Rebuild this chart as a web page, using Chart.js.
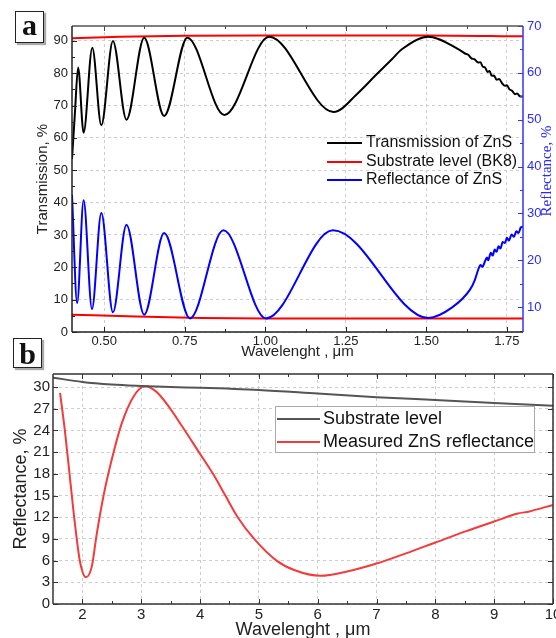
<!DOCTYPE html>
<html>
<head>
<meta charset="utf-8">
<script src="https://cdn.jsdelivr.net/npm/chart.js@4.4.0/dist/chart.umd.min.js"></script>
<style>
  html, body { margin: 0; background: #fff; }
  body { width: 556px; height: 638px; overflow: hidden; position: relative; }
  canvas { position: absolute; left: 0; }
  #chartA { top: 0; }
  #chartB { top: 362px; }
  .tag { position: absolute; border: 1.5px solid #222; background: #fff; box-sizing: border-box;
         font: bold 30px 'Liberation Serif', 'DejaVu Serif', serif; text-align: center;
         box-shadow: 2px 2px 1px #aaa; color: #111; }
</style>
</head>
<body>
<canvas id="chartA" width="556" height="362"></canvas>
<canvas id="chartB" width="556" height="282"></canvas>
<div class="tag" style="left:15px;top:11px;width:29px;height:32px;line-height:26px;">a</div>
<div class="tag" style="left:13px;top:338px;width:29px;height:30px;line-height:29px;">b</div>
<script>
// ---- panel a : transmission / reflectance of ZnS film on BK8 ----
const transWl  = [0.400, 0.409, 0.419, 0.436, 0.463, 0.491, 0.527, 0.569, 0.624, 0.686, 0.758, 0.873,
                  1.012, 1.212, 1.289, 1.341, 1.393, 1.424, 1.506, 1.600, 1.620, 1.630, 1.640, 1.650, 1.661,
                  1.668, 1.675, 1.682, 1.690, 1.696, 1.703, 1.710, 1.718, 1.726, 1.735, 1.744, 1.750, 1.758, 1.766,
                  1.775, 1.782, 1.790, 1.800];
const transVal = [53.5, 67.6, 81.8, 61.6, 87.9, 63.9, 90.0, 65.6, 91.0, 66.8, 91.0, 67.1,
                  91.3, 68.0, 74.0, 79.2, 84.3, 87.4, 91.3, 87.4, 86.1, 85.7, 84.6, 84.3, 83.3,
                  83.4, 82.0, 81.8, 80.4, 80.7, 79.2, 79.3, 78.0, 78.2, 76.9, 76.1, 76.3, 75.0, 74.6,
                  73.5, 73.7, 72.9, 72.8];

const subTopWl  = [0.40, 0.55, 0.75, 1.00, 1.50, 1.80];
const subTopVal = [90.8, 91.3, 91.6, 91.7, 91.7, 91.4];

const reflWl  = [0.400, 0.416, 0.436, 0.462, 0.491, 0.527, 0.569, 0.624, 0.686, 0.766, 0.870, 1.002,
                 1.210, 1.506, 1.579, 1.636, 1.651, 1.661, 1.668, 1.674, 1.682, 1.688,
                 1.692, 1.700, 1.706, 1.712, 1.718, 1.724, 1.730, 1.737, 1.744, 1.750, 1.756, 1.765, 1.772, 1.779,
                 1.786, 1.793, 1.800];
const reflVal = [34.0, 10.9, 32.8, 9.6, 30.1, 8.9, 27.6, 8.4, 25.8, 7.6, 26.4, 7.6,
                 26.4, 7.7, 9.9, 13.8, 15.9, 18.0, 19.0, 18.6, 19.8, 20.6,
                 20.0, 21.6, 21.0, 22.3, 21.8, 23.0, 22.5, 23.9, 23.7, 24.8, 24.2, 25.5, 25.0, 26.2,
                 25.8, 27.0, 27.2];

const subBotWl  = [0.40, 0.60, 0.80, 1.00, 1.50, 1.80];
const subBotVal = [8.4, 8.0, 7.7, 7.6, 7.6, 7.6];

const xTicksA  = [0.50, 0.75, 1.00, 1.25, 1.50, 1.75];
const yTicksA  = [0, 10, 20, 30, 40, 50, 60, 70, 80, 90];
const y1TicksA = [10, 20, 30, 40, 50, 60, 70];
const legendA  = ['Transmission of ZnS', 'Substrate level (BK8)', 'Reflectance of ZnS'];

// ---- panel b : IR reflectance ----
const subBWl  = [1.5, 2.0, 2.5, 3.0, 3.5, 4.0, 5.0, 6.0, 7.0, 8.0, 9.0, 10.0];
const subBVal = [31.3, 30.7, 30.35, 30.15, 30.0, 29.9, 29.6, 29.1, 28.6, 28.2, 27.8, 27.4];

const measWl  = [1.62, 1.70, 1.79, 1.87, 1.96, 2.06, 2.16, 2.24, 2.36, 2.50, 2.67, 2.87, 3.06, 3.25, 3.45,
                 3.70, 3.98, 4.22, 4.43, 4.64, 4.92, 5.30, 5.60, 6.05, 6.50, 7.00, 7.50, 8.00, 8.50,
                 9.00, 9.40, 9.60, 10.0];
const measVal = [29.2, 24.1, 17.3, 11.3, 5.8, 3.7, 5.2, 9.5, 15.0, 20.0, 25.0, 28.7, 30.1, 29.4, 27.5,
                 24.5, 21.0, 18.0, 15.0, 12.0, 9.0, 6.0, 4.7, 3.9, 4.5, 5.6, 7.0, 8.5, 10.0,
                 11.4, 12.5, 12.8, 13.7];

const xTicksB = [2, 3, 4, 5, 6, 7, 8, 9, 10];
const yTicksB = [0, 3, 6, 9, 12, 15, 18, 21, 24, 27, 30];

const SANS = "'Liberation Sans', Arial, sans-serif";
Chart.defaults.font.family = SANS;
Chart.defaults.color = '#222';

function pts(xs, ys) {
  return xs.map((x, i) => ({x: x, y: ys[i]}));
}

function fixTicks(arr) {
  return s => { s.ticks = arr.map(v => ({value: v})); };
}

function midpoints(arr, lo, hi) {
  let step = arr[1] - arr[0];
  let res = [];
  for (let v = arr[0] - step / 2; v <= hi; v += step) {
    if (v > lo) res.push(v);
  }
  return res;
}

// keep the plot box where it is, even if edge labels stick out
function fitX(h) {
  return s => { s.height = h; s.paddingLeft = 0; s.paddingRight = 0; };
}

// frame + inward tick marks
function frame(ctx, a, edges) {
  edges.forEach(e => {
    ctx.strokeStyle = e.color;
    ctx.lineWidth = e.width;
    ctx.beginPath();
    if (e.side == 'top') { ctx.moveTo(a.left, a.top); ctx.lineTo(a.right, a.top); }
    if (e.side == 'bottom') { ctx.moveTo(a.left, a.bottom); ctx.lineTo(a.right, a.bottom); }
    if (e.side == 'left') { ctx.moveTo(a.left, a.top); ctx.lineTo(a.left, a.bottom); }
    if (e.side == 'right') { ctx.moveTo(a.right, a.top); ctx.lineTo(a.right, a.bottom); }
    ctx.stroke();
  });
}

function tickMarks(ctx, a, scale, side, vals, len, color) {
  ctx.strokeStyle = color;
  ctx.lineWidth = 1;
  ctx.beginPath();
  vals.forEach(v => {
    let p = Math.round(scale.getPixelForValue(v)) + 0.5;
    if (side == 'bottom') { ctx.moveTo(p, a.bottom); ctx.lineTo(p, a.bottom - len); }
    if (side == 'top') { ctx.moveTo(p, a.top); ctx.lineTo(p, a.top + len); }
    if (side == 'left') { ctx.moveTo(a.left, p); ctx.lineTo(a.left + len, p); }
    if (side == 'right') { ctx.moveTo(a.right, p); ctx.lineTo(a.right - len, p); }
  });
  ctx.stroke();
}

const decorA = {
  id: 'decorA',
  afterDraw(chart) {
    const ctx = chart.ctx, a = chart.chartArea, s = chart.scales;
    ctx.save();
    let xMin = midpoints(xTicksA, 0.4, 1.8);
    tickMarks(ctx, a, s.x, 'bottom', xTicksA, 5, '#222');
    tickMarks(ctx, a, s.x, 'bottom', xMin, 3, '#222');
    tickMarks(ctx, a, s.x, 'top', xTicksA, 5, '#444');
    tickMarks(ctx, a, s.x, 'top', xMin, 3, '#444');
    tickMarks(ctx, a, s.y, 'left', yTicksA, 5, '#222');
    tickMarks(ctx, a, s.y, 'left', midpoints(yTicksA, 0, 94.6), 3, '#222');
    tickMarks(ctx, a, s.y1, 'right', y1TicksA, 5, '#3333ff');
    tickMarks(ctx, a, s.y1, 'right', midpoints(y1TicksA, 4.7, 70), 3, '#3333ff');
    frame(ctx, a, [
      {side: 'top', color: '#555', width: 1.5},
      {side: 'bottom', color: '#222', width: 1.5},
      {side: 'left', color: '#222', width: 1.5},
      {side: 'right', color: '#3333ff', width: 1.5}
    ]);

    // legend (no box)
    const cols = chart.data.datasets.map(d => d.borderColor);
    ctx.font = '16px ' + SANS;
    ctx.textBaseline = 'middle';
    ctx.textAlign = 'left';
    [143, 162, 180].forEach((y, i) => {
      ctx.strokeStyle = cols[i];
      ctx.lineWidth = 2;
      ctx.beginPath();
      ctx.moveTo(327, y); ctx.lineTo(362, y);
      ctx.stroke();
      ctx.fillStyle = '#111';
      ctx.fillText(legendA[i], 366, y);
    });

    // right axis title, reads bottom to top
    ctx.translate(547, 171);
    ctx.rotate(-Math.PI / 2);
    ctx.font = "15px 'Liberation Serif', serif";
    ctx.fillStyle = '#2a2aff';
    ctx.textAlign = 'center';
    ctx.fillText('Reflectance, %', 0, 0);
    ctx.restore();
  }
};

const decorB = {
  id: 'decorB',
  afterDraw(chart) {
    const ctx = chart.ctx, a = chart.chartArea, s = chart.scales;
    ctx.save();
    let xMin = midpoints(xTicksB, 1.5, 10);
    ['bottom', 'top'].forEach(side => {
      tickMarks(ctx, a, s.x, side, xTicksB, 5, '#333');
      tickMarks(ctx, a, s.x, side, xMin, 3, '#333');
    });
    ['left', 'right'].forEach(side => {
      tickMarks(ctx, a, s.y, side, yTicksB, 5, '#333');
    });
    frame(ctx, a, [
      {side: 'top', color: '#333', width: 1.5},
      {side: 'bottom', color: '#333', width: 1.5},
      {side: 'left', color: '#333', width: 1.5},
      {side: 'right', color: '#333', width: 1.5}
    ]);

    // legend box
    ctx.fillStyle = '#fff';
    ctx.fillRect(275, 44, 259, 46);
    ctx.strokeStyle = '#aaa';
    ctx.lineWidth = 1;
    ctx.strokeRect(275.5, 44.5, 259, 46);
    ctx.font = '18px ' + SANS;
    ctx.textBaseline = 'middle';
    ctx.textAlign = 'left';
    chart.data.datasets.forEach((d, i) => {
      let y = 57 + i * 23;
      ctx.strokeStyle = d.borderColor;
      ctx.lineWidth = 2;
      ctx.beginPath();
      ctx.moveTo(277, y); ctx.lineTo(320, y);
      ctx.stroke();
      ctx.fillStyle = '#111';
      ctx.fillText(d.label, 323, y);
    });
    ctx.restore();
  }
};

const gridStyle = {color: '#cdcdcd', lineWidth: 1, drawTicks: false};

new Chart(document.getElementById('chartA'), {
  type: 'line',
  data: {
    datasets: [
      {label: legendA[0], data: pts(transWl, transVal), borderColor: '#000000', yAxisID: 'y'},
      {label: legendA[1], data: pts(subTopWl, subTopVal), borderColor: '#ff0000', yAxisID: 'y'},
      {label: legendA[2], data: pts(reflWl, reflVal), borderColor: '#0000ff', yAxisID: 'y1'},
      {label: 'substrate R', data: pts(subBotWl, subBotVal), borderColor: '#ff0000', yAxisID: 'y1'}
    ]
  },
  options: {
    responsive: false,
    animation: false,
    devicePixelRatio: 1,
    layout: {padding: {top: 26, left: 0, right: 0, bottom: 0}},
    elements: {
      point: {radius: 0},
      line: {borderWidth: 2, cubicInterpolationMode: 'monotone'}
    },
    plugins: {legend: {display: false}, tooltip: {enabled: false}},
    scales: {
      x: {
        type: 'linear', min: 0.4, max: 1.8,
        afterBuildTicks: fixTicks(xTicksA),
        afterFit: fitX(30),
        ticks: {font: {size: 13}, padding: 2, maxRotation: 0, autoSkip: false, callback: v => v.toFixed(2)},
        grid: gridStyle,
        border: {display: false, dash: [3, 3]},
        title: {display: true, text: 'Wavelenght , μm', font: {size: 15}, color: '#222', padding: {top: 0, bottom: 1}}
      },
      y: {
        position: 'left', min: 0, max: 94.6,
        afterBuildTicks: fixTicks(yTicksA),
        afterFit: s => { s.width = 72; },
        ticks: {font: {size: 13}, padding: 4},
        grid: gridStyle,
        border: {display: false, dash: [3, 3]},
        title: {display: true, text: 'Transmission, %', font: {size: 15}, color: '#222', padding: {top: 34, bottom: 0}}
      },
      y1: {
        position: 'right', min: 4.7, max: 70,
        afterBuildTicks: fixTicks(y1TicksA),
        afterFit: s => { s.width = 33; },
        ticks: {font: {size: 13}, padding: 4, color: '#2b2bff'},
        grid: {drawOnChartArea: false, drawTicks: false},
        border: {display: false}
      }
    }
  },
  plugins: [decorA]
});

new Chart(document.getElementById('chartB'), {
  type: 'line',
  data: {
    datasets: [
      {label: 'Substrate level', data: pts(subBWl, subBVal), borderColor: '#555555'},
      {label: 'Measured ZnS reflectance', data: pts(measWl, measVal), borderColor: '#f23b3b'}
    ]
  },
  options: {
    responsive: false,
    animation: false,
    devicePixelRatio: 1,
    layout: {padding: {top: 10, left: 0, right: 3, bottom: 0}},
    elements: {
      point: {radius: 0},
      line: {borderWidth: 2, cubicInterpolationMode: 'monotone'}
    },
    plugins: {legend: {display: false}, tooltip: {enabled: false}},
    scales: {
      x: {
        type: 'linear', min: 1.5, max: 10,
        afterBuildTicks: fixTicks(xTicksB),
        afterFit: fitX(40),
        ticks: {font: {size: 15}, padding: 2, maxRotation: 0, autoSkip: false},
        grid: gridStyle,
        border: {display: false, dash: [3, 3]},
        title: {display: true, text: 'Wavelenght , μm', font: {size: 18}, color: '#222', padding: {top: 0, bottom: 3}}
      },
      y: {
        min: 0, max: 31.8,
        afterBuildTicks: fixTicks(yTicksB),
        afterFit: s => { s.width = 53; },
        ticks: {font: {size: 15}, padding: 3},
        grid: gridStyle,
        border: {display: false, dash: [3, 3]},
        title: {display: true, text: 'Reflectance, %', font: {size: 18}, color: '#222', padding: {top: 10, bottom: 0}}
      }
    }
  },
  plugins: [decorB]
});
</script>
</body>
</html>
